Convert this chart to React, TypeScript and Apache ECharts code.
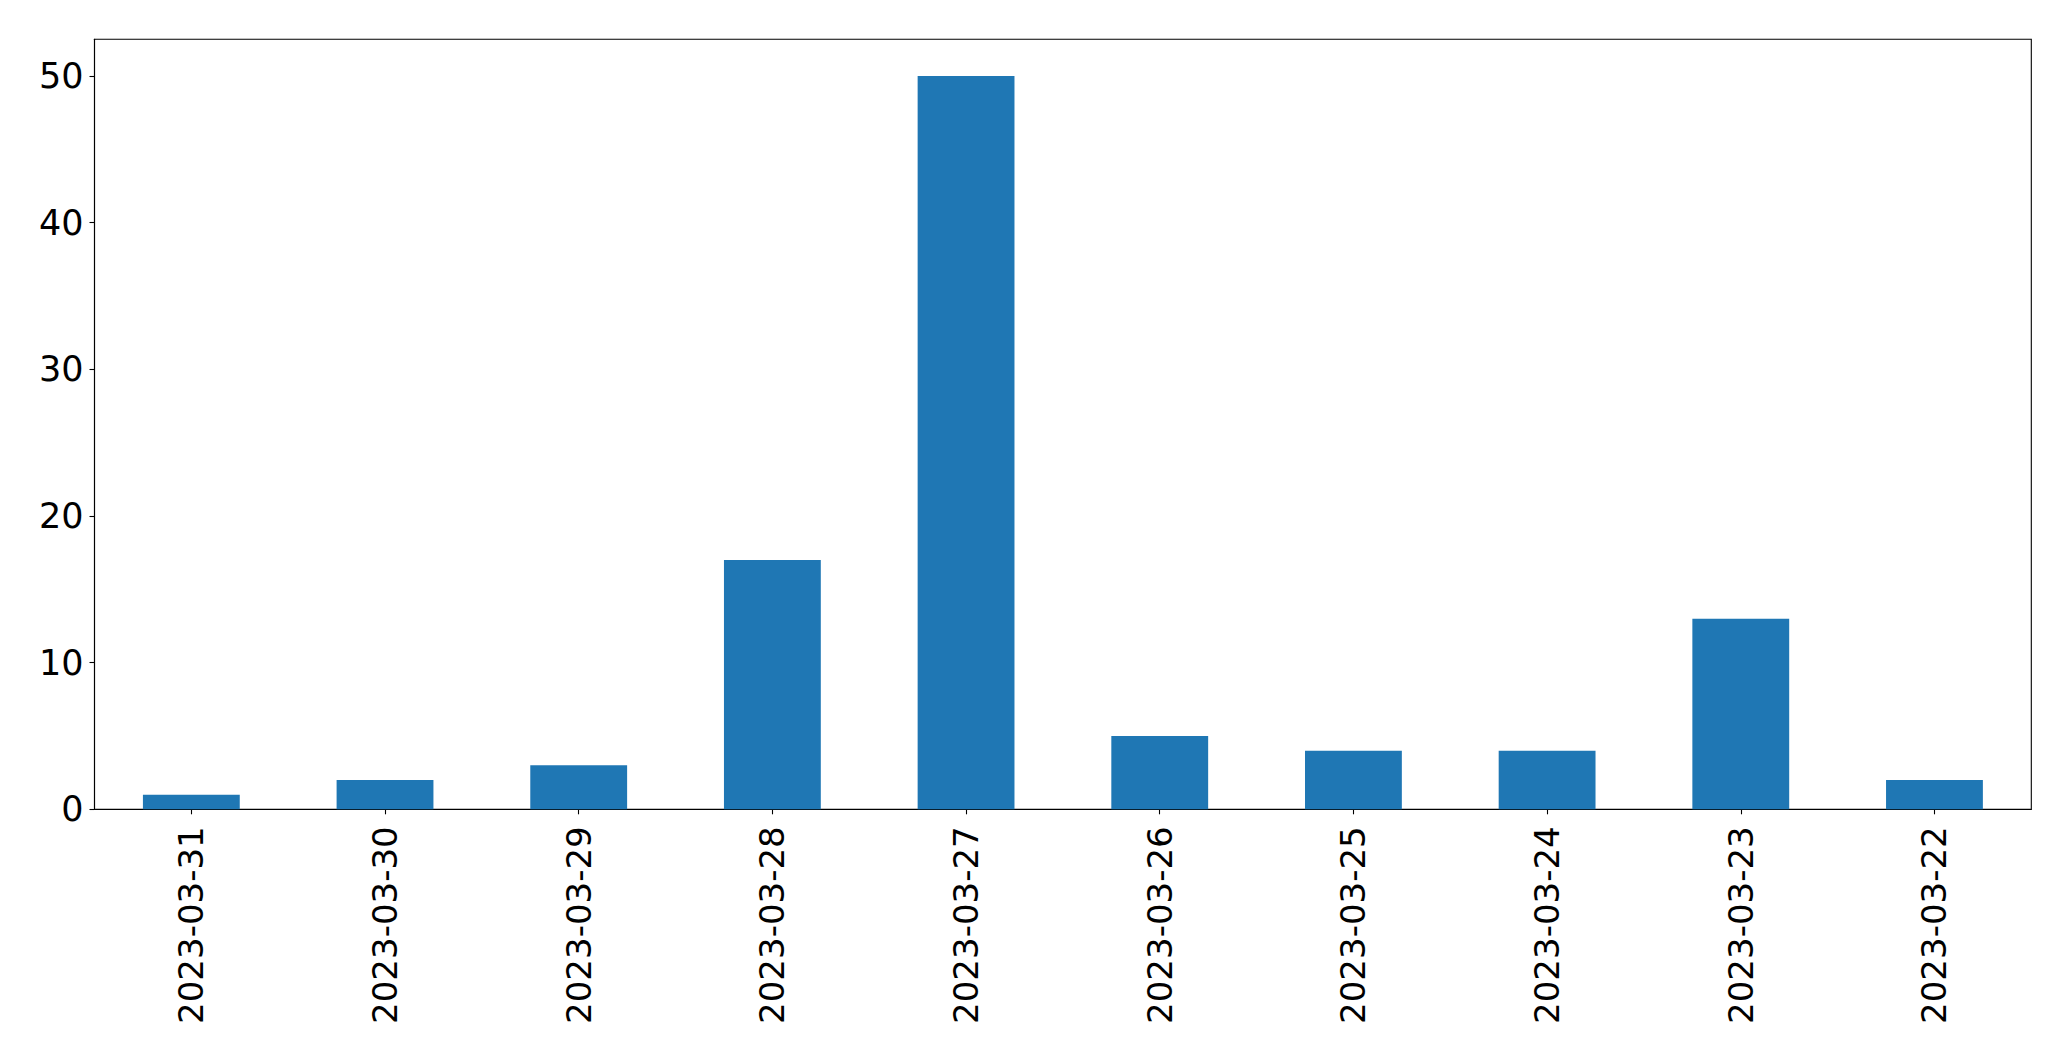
import React, { useEffect, useRef } from "react";
import * as echarts from "echarts";

const categories = [
  "2023-03-31",
  "2023-03-30",
  "2023-03-29",
  "2023-03-28",
  "2023-03-27",
  "2023-03-26",
  "2023-03-25",
  "2023-03-24",
  "2023-03-23",
  "2023-03-22",
];
const values = [1, 2, 3, 17, 50, 5, 4, 4, 13, 2];
const yTicks = [0, 10, 20, 30, 40, 50];

export default function App() {
  const ref = useRef<HTMLDivElement>(null);
  useEffect(() => {
    if (!ref.current) return;
    const chart = echarts.init(ref.current, undefined, { renderer: "svg" });
    const font = "DejaVu Sans";
    chart.setOption({
      animation: false,
      backgroundColor: "#ffffff",
      grid: {
        left: 94.5,
        right: 39.7,
        top: 39.3,
        bottom: 251.7,
        show: true,
        borderColor: "#000000",
        borderWidth: 1.1,
        backgroundColor: "transparent",
      },
      xAxis: {
        type: "category",
        data: categories,
        boundaryGap: true,
        axisLine: { show: true, lineStyle: { color: "#000000", width: 1.1 } },
        axisTick: { show: true, alignWithLabel: true, length: 5, lineStyle: { color: "#000000", width: 1.1 } },
        axisLabel: {
          rotate: 90,
          margin: 17,
          fontFamily: font,
          fontSize: 34,
          color: "#000000",
          interval: 0,
        },
        splitLine: { show: false },
      },
      yAxis: {
        type: "value",
        min: 0,
        max: 52.5,
        axisLine: { show: true, lineStyle: { color: "#000000", width: 1.1 } },
        axisTick: { show: true, length: 5, customValues: yTicks, lineStyle: { color: "#000000", width: 1.1 } },
        axisLabel: {
          customValues: yTicks,
          margin: 11,
          fontFamily: font,
          fontSize: 35,
          color: "#000000",
        },
        splitLine: { show: false },
      },
      series: [
        {
          type: "bar",
          data: values,
          barWidth: "50%",
          itemStyle: { color: "#1f77b4" },
        },
      ],
    });
    return () => chart.dispose();
  }, []);
  return (
    <div
      ref={ref}
      style={{ position: "fixed", left: 0, top: 0, width: "2071px", height: "1061px", background: "#ffffff" }}
    />
  );
}
